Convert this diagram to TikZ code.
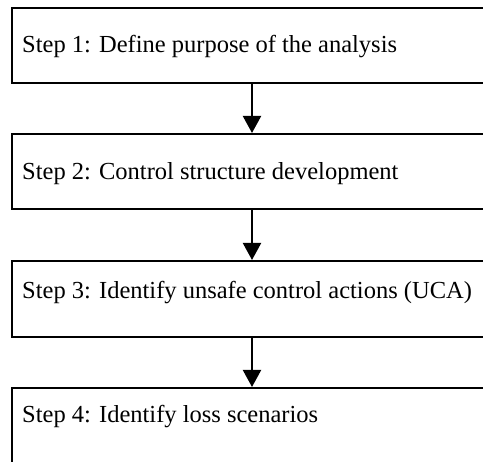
\documentclass[tikz,border=0pt]{standalone}
\usepackage{fontspec}
\setmainfont{Liberation Serif}
\usetikzlibrary{arrows.meta}
\begin{document}
\begin{tikzpicture}[x=1pt,y=-1pt,
  stepbox/.style={draw, line width=2pt, rectangle, minimum width=480pt, inner sep=0pt},
  steptext/.style={anchor=base west, inner sep=0pt, font=\fontsize{24.5}{29}\selectfont},
  flow/.style={line width=2pt, -{Triangle[length=17pt,width=18pt]}}]
  \useasboundingbox (0,0) rectangle (483,462);
  \clip (0,0) rectangle (483,462);
  % the four step boxes (they run past the right and lower page edges)
  \node[stepbox, minimum height=75pt] (b1) at (252,45.5) {};
  \node[stepbox, minimum height=75pt] (b2) at (252,171.5) {};
  \node[stepbox, minimum height=76pt] (b3) at (252,299) {};
  \node[stepbox, minimum height=120pt] (b4) at (252,448) {};
  % step labels
  \node[steptext] (t1) at (22,53) {Step 1: Define purpose of the analysis};
  \node[steptext] (t2) at (22,180) {Step 2: Control structure development};
  \node[steptext] (t3) at (22,299) {Step 3: Identify unsafe control actions (UCA)};
  \node[steptext] (t4) at (22,423) {Step 4: Identify loss scenarios};
  % arrows between consecutive steps
  \draw[flow] (b1.south) -- (b2.north);
  \draw[flow] (b2.south) -- (b3.north);
  \draw[flow] (b3.south) -- (b4.north);
\end{tikzpicture}
\end{document}
